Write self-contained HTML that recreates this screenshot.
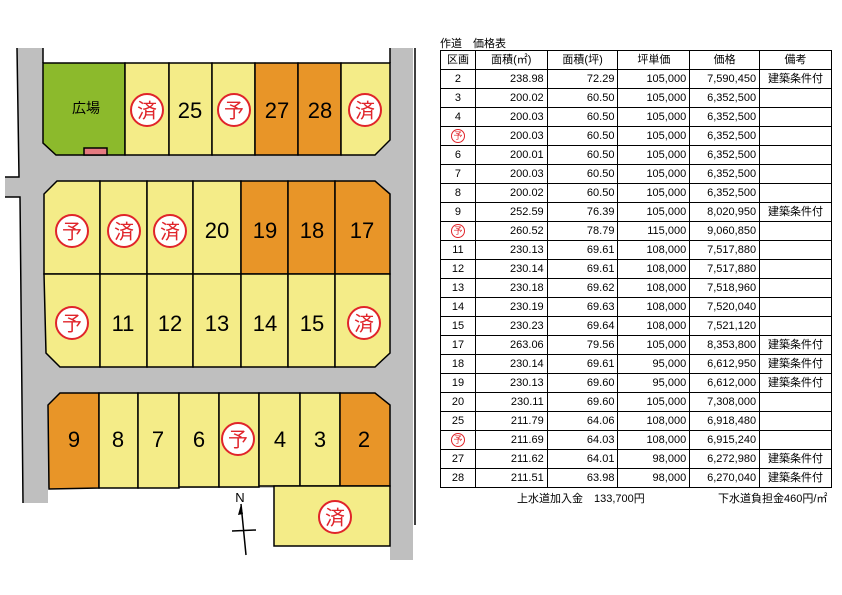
<!DOCTYPE html>
<html><head><meta charset="utf-8"><style>
body{margin:0;background:#fff;width:842px;height:595px;overflow:hidden;position:relative;font-family:"Liberation Sans","Noto Sans CJK JP",sans-serif}
svg{position:absolute;left:0;top:0}
</style></head><body>
<svg width="842" height="595" viewBox="0 0 842 595" font-family="Liberation Sans, Noto Sans CJK JP, sans-serif">
<defs>
<g id="sai"><circle r="16" fill="#fff" stroke="#e0242a" stroke-width="2"/><text y="7.5" text-anchor="middle" font-size="20" fill="#e0242a">済</text></g>
<g id="yo"><circle r="16" fill="#fff" stroke="#e0242a" stroke-width="2"/><text y="7.5" text-anchor="middle" font-size="20" fill="#e0242a">予</text></g>
</defs>
<!-- roads -->
<path d="M17,48 L43,48 L43,63 L390,63 L390,48 L413,48 L413,560 L390,560 L390,488 L48,488 L48,503 L23,503 L20,197 L5,197 L5,177 L19,177 Z" fill="#bfbfbf"/>
<path d="M43,48 L43,63 M17,48 L19,177 L5,177 M5,197 L20,197 L23,503" fill="none" stroke="#000" stroke-width="1.5"/>
<path d="M390,48 L390,63 M415,48 L415,525" fill="none" stroke="#000" stroke-width="1.5"/>
<g stroke="#000" stroke-width="1.5">
<!-- top block -->
<path d="M43,63 L125,63 L125,155 L56,155 L43,143 Z" fill="#8cba2c"/>
<rect x="84" y="148" width="23" height="7" fill="#e57a80"/>
<rect x="125" y="63" width="44" height="92" fill="#f4ec88"/>
<rect x="169" y="63" width="43" height="92" fill="#f4ec88"/>
<rect x="212" y="63" width="43" height="92" fill="#f4ec88"/>
<rect x="255" y="63" width="43" height="92" fill="#e89528"/>
<rect x="298" y="63" width="43" height="92" fill="#e89528"/>
<path d="M341,63 L390,63 L390,140 L375,155 L341,155 Z" fill="#f4ec88"/>
<!-- middle block -->
<path d="M57,181 L100,181 L100,274 L44,274 L44,194 Z" fill="#f4ec88"/>
<rect x="100" y="181" width="47" height="93" fill="#f4ec88"/>
<rect x="147" y="181" width="46" height="93" fill="#f4ec88"/>
<rect x="193" y="181" width="48" height="93" fill="#f4ec88"/>
<rect x="241" y="181" width="47" height="93" fill="#e89528"/>
<rect x="288" y="181" width="47" height="93" fill="#e89528"/>
<path d="M335,181 L375,181 L390,194 L390,274 L335,274 Z" fill="#e89528"/>
<path d="M44,274 L100,274 L100,367 L60,367 L46,353 Z" fill="#f4ec88"/>
<rect x="100" y="274" width="47" height="93" fill="#f4ec88"/>
<rect x="147" y="274" width="46" height="93" fill="#f4ec88"/>
<rect x="193" y="274" width="48" height="93" fill="#f4ec88"/>
<rect x="241" y="274" width="47" height="93" fill="#f4ec88"/>
<rect x="288" y="274" width="47" height="93" fill="#f4ec88"/>
<path d="M335,274 L390,274 L390,353 L375,367 L335,367 Z" fill="#f4ec88"/>
<!-- bottom block -->
<path d="M60,393 L99,393 L99,488 L49,489 L48,405 Z" fill="#e89528"/>
<rect x="99" y="393" width="39" height="95" fill="#f4ec88"/>
<rect x="138" y="393" width="41" height="95" fill="#f4ec88"/>
<rect x="179" y="393" width="40" height="94" fill="#f4ec88"/>
<rect x="219" y="393" width="40" height="94" fill="#f4ec88"/>
<rect x="259" y="393" width="41" height="93" fill="#f4ec88"/>
<rect x="300" y="393" width="40" height="93" fill="#f4ec88"/>
<path d="M340,393 L375,393 L390,405 L390,486 L340,486 Z" fill="#e89528"/>
<rect x="274" y="486" width="116" height="60" fill="#f4ec88"/>
</g>
<g font-size="22" text-anchor="middle" fill="#000">
<text x="86" y="113" font-size="14">広場</text>
<text x="190" y="118">25</text><text x="277" y="118">27</text><text x="320" y="118">28</text>
<text x="217" y="238">20</text><text x="265" y="238">19</text><text x="312" y="238">18</text><text x="362" y="238">17</text>
<text x="123" y="331">11</text><text x="170" y="331">12</text><text x="217" y="331">13</text><text x="265" y="331">14</text><text x="312" y="331">15</text>
<text x="74" y="447">9</text><text x="118" y="447">8</text><text x="158" y="447">7</text><text x="199" y="447">6</text><text x="280" y="447">4</text><text x="320" y="447">3</text><text x="364" y="447">2</text>
</g>
<use href="#sai" x="147" y="110"/><use href="#yo" x="234" y="110"/><use href="#sai" x="365" y="110"/>
<use href="#yo" x="72" y="231"/><use href="#sai" x="124" y="231"/><use href="#sai" x="170" y="231"/>
<use href="#yo" x="72" y="323"/><use href="#sai" x="364" y="323"/>
<use href="#yo" x="238" y="439"/><use href="#sai" x="335" y="517"/>
<!-- compass -->
<text x="240" y="502" font-size="13" text-anchor="middle">N</text>
<path d="M241,504 L246,555 M232,531 L256,530" stroke="#000" stroke-width="1.5"/>
<path d="M241,504 L238,515 L243,514 Z" fill="#000"/>
</svg>
<div style="position:absolute;left:440px;top:35px;font-size:11px">作道　価格表</div>
<table style="position:absolute;left:440px;top:50px;border-collapse:collapse;font-size:11px;width:392px">
<colgroup><col style="width:35px"><col style="width:72px"><col style="width:71px"><col style="width:72px"><col style="width:70px"><col style="width:72px"></colgroup>
<tbody id="t"></tbody>
</table>
<div style="position:absolute;left:517px;top:490px;font-size:11px">上水道加入金　133,700円</div>
<div style="position:absolute;left:718px;top:490px;font-size:11px">下水道負担金460円/㎡</div>
<script>
var d=[["2","238.98","72.29","105,000","7,590,450","建築条件付"],["3","200.02","60.50","105,000","6,352,500",""],["4","200.03","60.50","105,000","6,352,500",""],["予","200.03","60.50","105,000","6,352,500",""],["6","200.01","60.50","105,000","6,352,500",""],["7","200.03","60.50","105,000","6,352,500",""],["8","200.02","60.50","105,000","6,352,500",""],["9","252.59","76.39","105,000","8,020,950","建築条件付"],["予","260.52","78.79","115,000","9,060,850",""],["11","230.13","69.61","108,000","7,517,880",""],["12","230.14","69.61","108,000","7,517,880",""],["13","230.18","69.62","108,000","7,518,960",""],["14","230.19","69.63","108,000","7,520,040",""],["15","230.23","69.64","108,000","7,521,120",""],["17","263.06","79.56","105,000","8,353,800","建築条件付"],["18","230.14","69.61","95,000","6,612,950","建築条件付"],["19","230.13","69.60","95,000","6,612,000","建築条件付"],["20","230.11","69.60","105,000","7,308,000",""],["25","211.79","64.06","108,000","6,918,480",""],["予","211.69","64.03","108,000","6,915,240",""],["27","211.62","64.01","98,000","6,272,980","建築条件付"],["28","211.51","63.98","98,000","6,270,040","建築条件付"]];
var c='border:1px solid #000;height:18px;padding:0 3px;line-height:18px;white-space:nowrap;';
var h='<tr>'+["区画","面積(㎡)","面積(坪)","坪単価","価格","備考"].map(function(x){return '<td style="'+c+'text-align:center">'+x+'</td>'}).join('')+'</tr>';
d.forEach(function(r){h+='<tr>'+r.map(function(x,i){var a=i==0||i==5?'center':'right';var v=x=='予'?'<span style="display:inline-block;width:12px;height:12px;border:1px solid #e0242a;border-radius:50%;color:#e0242a;font-size:9px;line-height:12px">予</span>':x;return '<td style="'+c+'text-align:'+a+'">'+v+'</td>'}).join('')+'</tr>'});
document.getElementById('t').innerHTML=h;
</script>
</body></html>
